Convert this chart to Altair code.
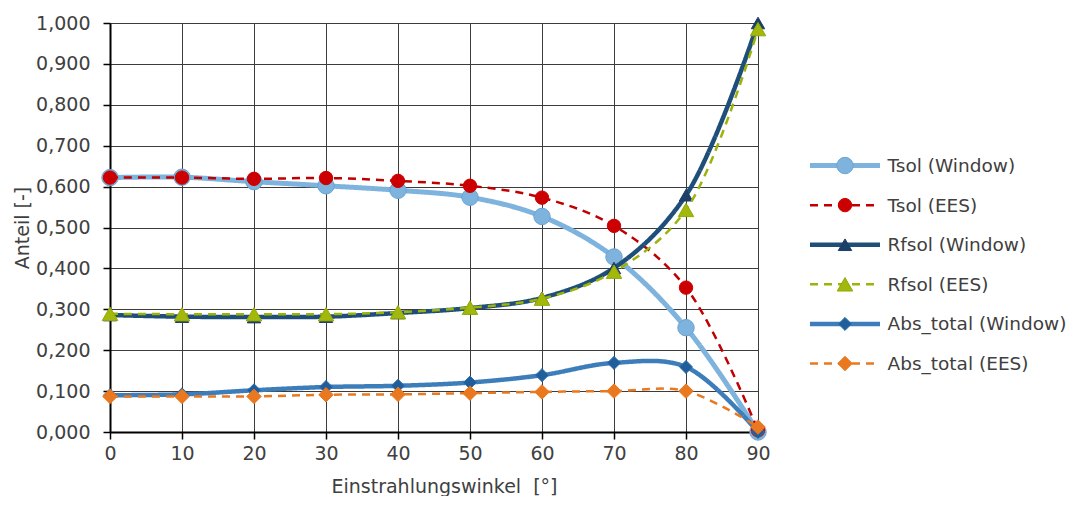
import json
import altair as alt
import pandas as pd

# ---- data ----
angles = [0, 10, 20, 30, 40, 50, 60, 70, 80, 90]
series_names = ["Tsol (Window)", "Tsol (EES)", "Rfsol (Window)", "Rfsol (EES)",
                "Abs_total (Window)", "Abs_total (EES)"]
tsol_window = [0.622, 0.623, 0.612, 0.602, 0.591, 0.574, 0.527, 0.428, 0.255, 0.000]
tsol_ees = [0.622, 0.622, 0.619, 0.621, 0.614, 0.602, 0.573, 0.504, 0.353, 0.004]
rfsol_window = [0.286, 0.282, 0.281, 0.282, 0.291, 0.303, 0.328, 0.401, 0.579, 1.000]
rfsol_ees = [0.289, 0.288, 0.288, 0.288, 0.293, 0.304, 0.326, 0.392, 0.543, 0.985]
abs_window = [0.090, 0.092, 0.102, 0.110, 0.113, 0.121, 0.139, 0.169, 0.159, 0.000]
abs_ees = [0.087, 0.087, 0.087, 0.091, 0.092, 0.095, 0.098, 0.100, 0.100, 0.012]
y_ticks = [0.0, 0.1, 0.2, 0.3, 0.4, 0.5, 0.6, 0.7, 0.8, 0.9, 1.0]
x_ticks = angles

# ---- styles ----
line_colors = ["#7EB3DD", "#C00000", "#1F4E79", "#9BB30A", "#3C7DBA", "#E9781F"]
marker_fill = ["#7EB3DD", "#CC0000", "#1B3F66", "#A2B80A", "#1F5E9A", "#E9781F"]
marker_stroke = ["#6AA3D2", "#CC0000", "#1B3F66", "#93A808", "#2E6EAD", "#E9781F"]
dashes = [[1, 0], [8, 6], [1, 0], [8, 6], [1, 0], [8, 6]]
widths = [5, 2.5, 4.5, 2.5, 4.5, 2.5]
shapes = ["circle", "circle", "triangle-up", "triangle-up", "diamond", "diamond"]
sizes = [270, 180, 180, 240, 170, 210]

FONT = "DejaVu Sans"
FS = 19
TXT = "#404040"

all_values = [tsol_window, tsol_ees, rfsol_window, rfsol_ees, abs_window, abs_ees]
rows = []
for name, vals in zip(series_names, all_values):
    for a, v in zip(angles, vals):
        rows.append({"series": name, "angle": a, "value": v})
df = pd.DataFrame(rows)

x_enc = alt.X("angle:Q", scale=alt.Scale(domain=[0, 90], nice=False),
              axis=alt.Axis(values=x_ticks, title="Einstrahlungswinkel\u00a0 [°]",
                            titlePadding=14, labelPadding=5, labelFlush=False,
                            titleX=334))
y_enc = alt.Y("value:Q", scale=alt.Scale(domain=[0, 1], nice=False),
              axis=alt.Axis(values=y_ticks, title="Anteil [-]", titlePadding=3,
                            labelPadding=13, labelFlush=False,
                            labelExpr="replace(format(datum.value, '.3f'), '.', ',')"))

base = alt.Chart(df)
layers = []
for i, name in enumerate(series_names):
    sub = base.transform_filter(alt.datum.series == name)
    layers.append(sub.mark_line(interpolate="catmull-rom", color=line_colors[i],
                                strokeDash=dashes[i], strokeWidth=widths[i])
                  .encode(x=x_enc, y=y_enc))
    layers.append(sub.mark_point(shape=shapes[i], size=sizes[i], filled=True,
                                 fill=marker_fill[i], stroke=marker_stroke[i],
                                 strokeWidth=1, opacity=1)
                  .encode(x=x_enc, y=y_enc))
main = alt.layer(*layers).properties(width=648, height=409)

# ---- legend panel ----
leg_rows = []
for r, name in enumerate(series_names):
    for lx in [0.0, 1.0]:
        leg_rows.append({"series": name, "row": r, "lx": lx, "kind": "line"})
    leg_rows.append({"series": name, "row": r, "lx": 0.5, "kind": "point"})
ldf = pd.DataFrame(leg_rows)

names_js = json.dumps(series_names)
lx_enc = alt.X("lx:Q", scale=alt.Scale(domain=[0, 1], nice=False, zero=False), axis=None)
ly_enc = alt.Y("row:Q", scale=alt.Scale(domain=[-3.60, 6.73], nice=False, zero=False,
                                        reverse=True),
               axis=alt.Axis(orient="right", values=[0, 1, 2, 3, 4, 5], grid=False,
                             ticks=False, domain=False, title=None, labelPadding=7,
                             labelLimit=400, labelFontSize=18.5,
                             labelExpr=names_js + "[datum.value]"))
lbase = alt.Chart(ldf)
leg_layers = []
for i, name in enumerate(series_names):
    leg_layers.append(lbase.transform_filter((alt.datum.series == name) & (alt.datum.kind == "line"))
                      .mark_line(color=line_colors[i], strokeDash=dashes[i], strokeWidth=widths[i])
                      .encode(x=lx_enc, y=ly_enc))
    leg_layers.append(lbase.transform_filter((alt.datum.series == name) & (alt.datum.kind == "point"))
                      .mark_point(shape=shapes[i], size=sizes[i], filled=True,
                                  fill=marker_fill[i], stroke=marker_stroke[i],
                                  strokeWidth=1, opacity=1)
                      .encode(x=lx_enc, y=ly_enc))
legend = alt.layer(*leg_layers).properties(width=70, height=409)

chart = alt.hconcat(main, legend, spacing=29).properties(
    background="white",
    padding={"left": 5, "top": 6, "right": 0, "bottom": 0},
).configure_view(strokeWidth=0).configure_axis(
    labelFont=FONT, labelFontSize=FS, labelColor=TXT,
    titleFont=FONT, titleFontSize=FS, titleColor=TXT, titleFontWeight="normal",
    domainColor="#000000", domainWidth=2, tickColor="#000000", tickWidth=1.5, tickSize=7,
    gridColor="#3c3c3c", gridWidth=1, gridOpacity=1,
)

chart.save("out.html", embed_options={"renderer": "svg", "actions": False})
